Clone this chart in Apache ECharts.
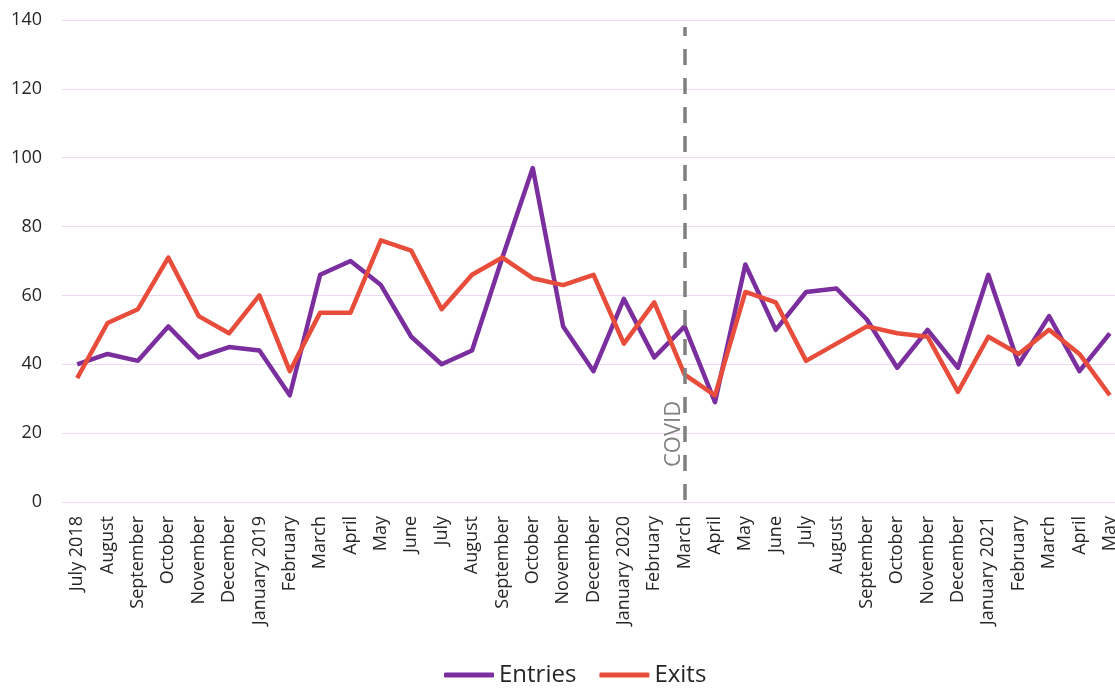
<!DOCTYPE html>
<html>
<head>
<meta charset="utf-8">
<script src="https://cdn.jsdelivr.net/npm/echarts@6/dist/echarts.min.js"></script>
<style>
html,body{margin:0;padding:0;background:#fff;}
#chart{width:1115px;height:688px;}
</style>
</head>
<body>
<div id="chart"></div>
<script>
const months = ["July 2018","August","September","October","November","December","January 2019","February","March","April","May","June","July","August","September","October","November","December","January 2020","February","March","April","May","June","July","August","September","October","November","December","January 2021","February","March","April","May"];
const entries = [40,43,41,51,42,45,44,31,66,70,63,48,40,44,71,97,51,38,59,42,51,29,69,50,61,62,53,39,50,39,66,40,54,38,49];
const exits   = [36,52,56,71,54,49,60,38,55,55,76,73,56,66,71,65,63,66,46,58,37,31,61,58,41,46,51,49,48,32,48,43,50,43,31];
const yTicks = [0,20,40,60,80,100,120,140];
const covidIndex = 20;   // March 2020
const covidTop = 138;
const covidLabel = "COVID";

const FONT = "Open Sans";
const chart = echarts.init(document.getElementById('chart'), null, {renderer:'canvas'});
chart.setOption({
  animation:false,
  backgroundColor:'#ffffff',
  grid:{left:62, right:-10, top:20, bottom:186, outerBoundsMode:'none', containLabel:false},
  legend:{
    data:['Entries','Exits'],
    left:439, top:658,
    icon:'roundRect', itemWidth:50, itemHeight:5, itemGap:23,
    textStyle:{fontFamily:FONT, fontSize:24, color:'#262626'}
  },
  xAxis:{
    type:'category', data:months, boundaryGap:true,
    axisLine:{show:false}, axisTick:{show:false},
    axisLabel:{interval:0, rotate:90, margin:14, fontFamily:FONT, fontSize:18, color:'#262626'}
  },
  yAxis:{
    type:'value', min:yTicks[0], max:yTicks[yTicks.length-1], interval:20,
    axisLine:{show:false}, axisTick:{show:false},
    axisLabel:{margin:20, fontFamily:FONT, fontSize:18, color:'#262626'},
    splitLine:{lineStyle:{color:'#EDD8F1', width:1}}
  },
  series:[
    {name:'Entries', type:'line', data:entries, showSymbol:false, symbol:'none',
     lineStyle:{color:'#7B2F9E', width:4.5, join:'round'}, itemStyle:{color:'#7B2F9E'}, z:3},
    {name:'Exits', type:'line', data:exits, showSymbol:false, symbol:'none',
     lineStyle:{color:'#E84C3A', width:4.5, join:'round'}, itemStyle:{color:'#E84C3A'}, z:4,
     markLine:{
       silent:true, symbol:['none','none'],
       lineStyle:{color:'#808080', width:3.5, type:[16,13], dashOffset:27},
       label:{show:true, formatter:covidLabel, position:'insideStartTop', distance:[35,0],
              fontFamily:FONT, fontSize:22, color:'#808080'},
       data:[[{coord:[covidIndex,0]},{coord:[covidIndex,covidTop]}]]
     }}
  ]
});
</script>
</body>
</html>
